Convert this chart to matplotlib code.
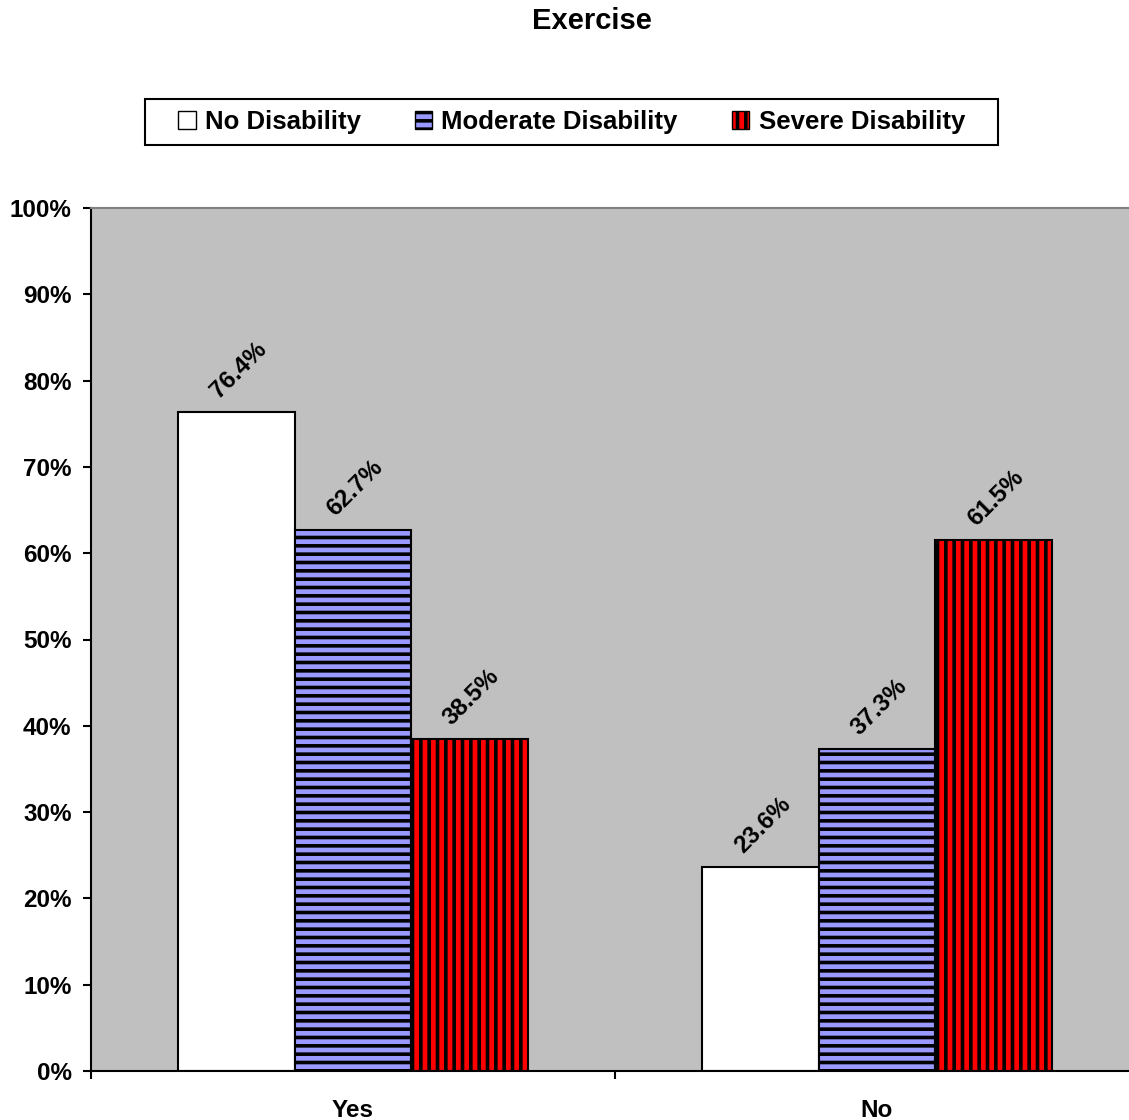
import matplotlib
matplotlib.use("Agg")
import matplotlib.pyplot as plt
import numpy as np
from matplotlib.patches import Rectangle

categories = ["Yes", "No"]
series = ["No Disability", "Moderate Disability", "Severe Disability"]
values = {
    "No Disability": [76.4, 23.6],
    "Moderate Disability": [62.7, 37.3],
    "Severe Disability": [38.5, 61.5],
}
colors = ["#FFFFFF", "#9999FF", "#FF0000"]
hatches = [None, "--", "||"]

plt.rcParams["font.family"] = ["Liberation Sans", "DejaVu Sans"]
plt.rcParams["font.weight"] = "bold"
plt.rcParams["hatch.linewidth"] = 2.6

fig = plt.figure(figsize=(11.29, 11.20), dpi=100)
ax = fig.add_axes([91 / 1129, 49 / 1120, 1048 / 1129, 863 / 1120])
ax.set_facecolor("#C0C0C0")

x = np.arange(len(categories))
w = 1 / 4.5
handles = []
for i, name in enumerate(series):
    pos = x + (i - 1) * w
    bars = ax.bar(pos, values[name], width=w, color=colors[i], edgecolor="black",
                  linewidth=1.5, hatch=hatches[i], label=name)
    handles.append(bars)
    for xp, v in zip(pos, values[name]):
        ax.annotate(f"{v:.1f}%", (xp, v), xytext=(2, 42), textcoords="offset pixels",
                    ha="center", va="center", rotation=45, fontsize=17.5, fontweight="bold")

ax.set_xlim(-0.5, 1.5)
ax.set_ylim(0, 100)
ax.set_yticks(np.arange(0, 101, 10))
ax.set_yticklabels([f"{t}%" for t in range(0, 101, 10)], fontsize=17.5, fontweight="bold")
ax.set_xticks([-0.5, 0.5, 1.5])
ax.set_xticklabels([])
ax.set_xticks(x, minor=True)
ax.set_xticklabels(categories, minor=True, fontsize=17.5, fontweight="bold")
ax.tick_params(axis="x", which="minor", length=0, pad=20)
ax.tick_params(axis="x", which="major", length=6, width=1.5, direction="out")
ax.tick_params(axis="y", length=6, width=1.5, direction="out", pad=8)

for s in ["left", "bottom"]:
    ax.spines[s].set_linewidth(1.5)
    ax.spines[s].set_color("black")
ax.spines["top"].set_color("#808080")
ax.spines["top"].set_linewidth(1.5)
ax.spines["right"].set_visible(False)

fig.text(592 / 1129, 1 - 21 / 1120, "Exercise", ha="center", va="center",
         fontsize=21, fontweight="bold")

fig.patches.append(Rectangle((145 / 1129, 1 - 145 / 1120), 853 / 1129, 46 / 1120,
                             transform=fig.transFigure, facecolor="white",
                             edgecolor="black", linewidth=1.5))
leg = fig.legend(handles=handles, labels=series, loc="center", ncol=3,
                 bbox_to_anchor=(571.5 / 1129, 1 - 122 / 1120), frameon=False,
                 prop={"size": 18.5, "weight": "bold"}, handlelength=0.68,
                 handleheight=0.68, handletextpad=0.36, columnspacing=2.1)
for p in leg.get_patches():
    p.set_linewidth(1)

fig.savefig("out.png", dpi=100)
